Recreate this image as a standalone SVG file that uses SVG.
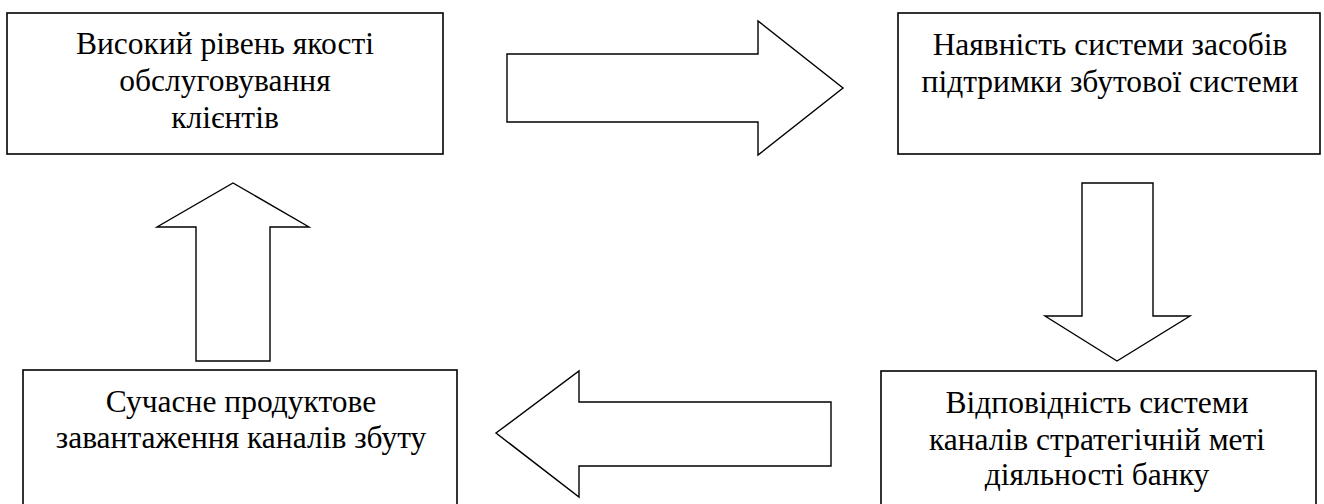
<svg xmlns="http://www.w3.org/2000/svg" width="1324" height="504" viewBox="0 0 1324 504">
  <style>
    .box { fill: #ffffff; stroke: #000000; stroke-width: 1.6; }
    .arrow { fill: #ffffff; stroke: #000000; stroke-width: 1.4; stroke-linejoin: miter; }
    .lbl { font-family: "Liberation Serif", "Times New Roman", serif; font-size: 31.5px; fill: #000000; text-anchor: middle; }
  </style>
  <rect x="0" y="0" width="1324" height="504" fill="#ffffff"/>
  <g id="node-quality">
    <rect class="box" x="7" y="13" width="436" height="141"/>
    <text class="lbl" x="225" y="54">Високий рівень якості</text>
    <text class="lbl" x="225" y="91">обслуговування</text>
    <text class="lbl" x="225" y="128">клієнтів</text>
  </g>
  <g id="node-support">
    <rect class="box" x="898" y="13" width="422" height="141"/>
    <text class="lbl" x="1110" y="55">Наявність системи засобів</text>
    <text class="lbl" x="1110" y="92">підтримки збутової системи</text>
  </g>
  <g id="node-product">
    <rect class="box" x="23" y="370" width="434" height="150"/>
    <text class="lbl" x="241" y="412">Сучасне продуктове</text>
    <text class="lbl" x="241" y="448">завантаження каналів збуту</text>
  </g>
  <g id="node-channels">
    <rect class="box" x="881" y="371" width="435" height="150"/>
    <text class="lbl" x="1097" y="413">Відповідність системи</text>
    <text class="lbl" x="1097" y="450">каналів стратегічній меті</text>
    <text class="lbl" x="1097" y="485">діяльності банку</text>
  </g>
  <g id="connectors">
    <polygon class="arrow" points="507,54 758,54 758,21 843,88 758,155 758,122 507,122"/>
    <polygon class="arrow" points="1082,183 1153,183 1153,316 1190,316 1117,361 1045,316 1082,316"/>
    <polygon class="arrow" points="831,402 579,402 579,371 496,433 579,497 579,466 831,466"/>
    <polygon class="arrow" points="196,361 196,227 157,227 233,183 309,227 270,227 270,361"/>
  </g>
</svg>
